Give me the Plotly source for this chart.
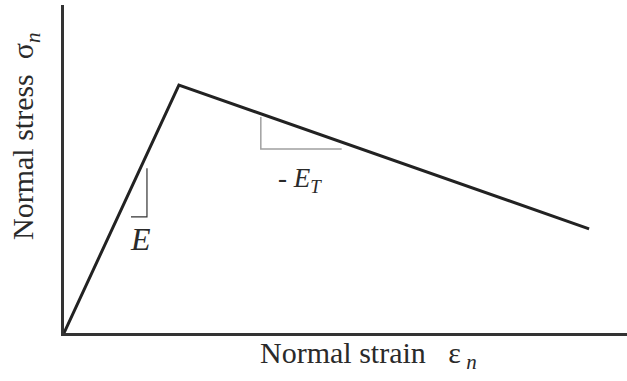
import plotly.graph_objects as go

# Main bilinear stress-strain curve (arbitrary units)
strain = [0.0, 1.0, 4.57]
stress = [0.0, 1.0, 0.42]

# Slope indicator for E (loading)
e_mark_x = [0.583, 0.722, 0.722]
e_mark_y = [0.468, 0.468, 0.665]

# Slope indicator for -E_T (softening)
et_mark_x = [1.713, 1.713, 2.417]
et_mark_y = [0.871, 0.742, 0.742]

x_range = [0, 4.9]
y_range = [0, 1.323]

font_family = "Liberation Serif, Times New Roman, serif"
txt_color = "#2a2a2a"

fig = go.Figure()
fig.add_trace(go.Scatter(x=strain, y=stress, mode="lines",
                         line=dict(color="#222222", width=3), hoverinfo="skip"))
fig.add_trace(go.Scatter(x=e_mark_x, y=e_mark_y, mode="lines",
                         line=dict(color="#333333", width=1.2), hoverinfo="skip"))
fig.add_trace(go.Scatter(x=et_mark_x, y=et_mark_y, mode="lines",
                         line=dict(color="#a0a0a0", width=1.5), hoverinfo="skip"))

fig.add_annotation(x=0.67, y=0.379, xref="x", yref="y", text="<i>E</i>",
                   xanchor="center", yanchor="middle",
                   showarrow=False, font=dict(family=font_family, size=32, color=txt_color))
fig.add_annotation(x=2.05, y=0.617, xref="x", yref="y", text="- <i>E</i><sub><i>T</i></sub>",
                   xanchor="center", yanchor="middle",
                   showarrow=False, font=dict(family=font_family, size=27, color=txt_color))

fig.add_annotation(x=0.541, y=-0.067, xref="paper", yref="paper",
                   xanchor="center", yanchor="middle",
                   text="Normal strain &nbsp; ε<sub> <i>n</i></sub>", showarrow=False,
                   font=dict(family=font_family, size=30, color=txt_color))
fig.add_annotation(x=-0.069, y=0.598, xref="paper", yref="paper", textangle=-90,
                   xanchor="center", yanchor="middle",
                   text="Normal stress  σ<sub><i>n</i></sub>", showarrow=False,
                   font=dict(family=font_family, size=30, color=txt_color))

fig.update_xaxes(range=x_range, showgrid=False, zeroline=False, showticklabels=False,
                 ticks="", showline=True, linecolor="#333333", linewidth=2.5)
fig.update_yaxes(range=y_range, showgrid=False, zeroline=False, showticklabels=False,
                 ticks="", showline=True, linecolor="#333333", linewidth=2.5)

fig.update_layout(width=627, height=381, margin=dict(l=64, r=0, t=5, b=48),
                  paper_bgcolor="white", plot_bgcolor="white", showlegend=False)

fig.write_html("out.html", config={"displayModeBar": False},
               post_script="document.body.style.margin='0';")
